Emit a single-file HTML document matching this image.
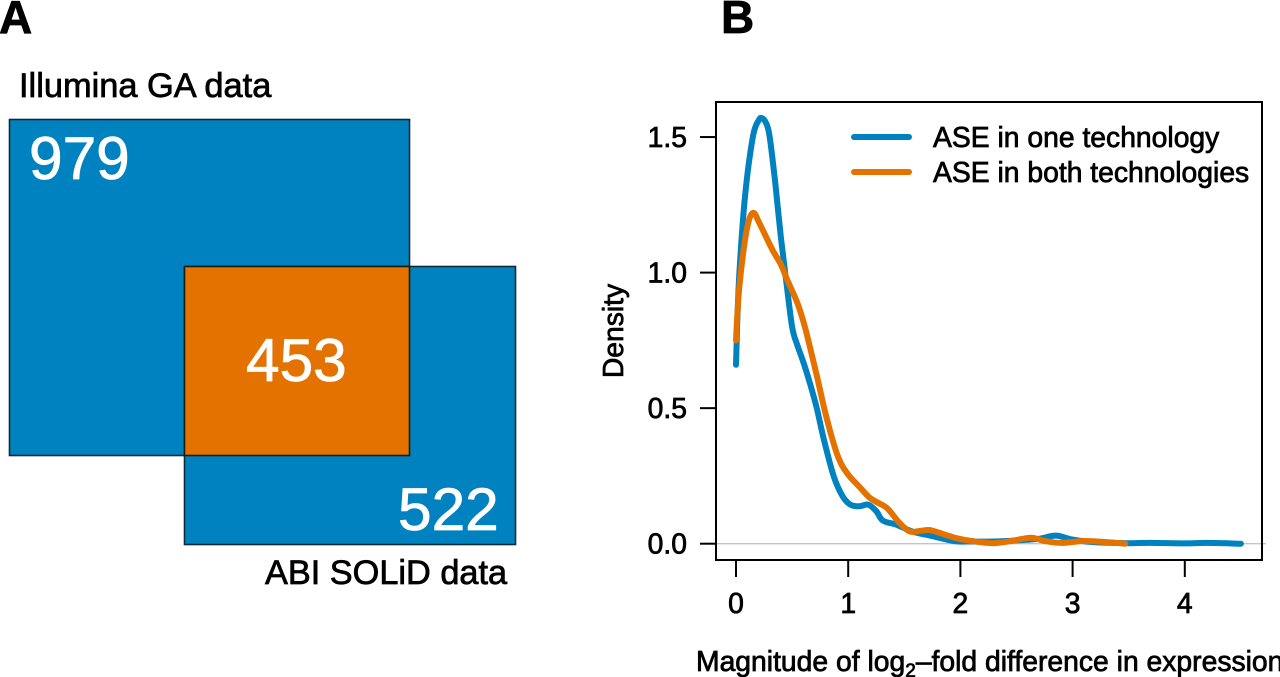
<!DOCTYPE html>
<html lang="en">
<head>
<meta charset="utf-8">
<title>ASE overlap and density</title>
<style>
html,body{margin:0;padding:0;width:1280px;height:677px;overflow:hidden;background:#fff}
svg{display:block;font-family:"Liberation Sans",sans-serif}
text{fill:#000;stroke:#000;stroke-width:.75px}
.w{fill:#fff;stroke:#fff;stroke-width:.8px;font-size:60.4px}
.l{font-size:28.3px}
</style>
</head>
<body>
<svg id="fig" xmlns="http://www.w3.org/2000/svg" width="1280" height="677" viewBox="0 0 1280 677">
  <text x="-1" y="33" font-size="46" font-weight="bold">A</text>
  <text x="721" y="33" font-size="46" font-weight="bold">B</text>

  <g>
    <text x="19" y="97" font-size="34.4">Illumina GA data</text>
    <rect x="9.5" y="119.5" width="400" height="336" fill="#0082c0" stroke="#0c2a3c" stroke-width="1.6"/>
    <rect x="184.5" y="266.5" width="331" height="278" fill="#0082c0" stroke="#0c2a3c" stroke-width="1.6"/>
    <rect x="184.5" y="266.5" width="225" height="189" fill="#e37200" stroke="#1c1c10" stroke-width="1.6"/>
    <text class="w" x="29" y="179">979</text>
    <text class="w" x="246" y="381">453</text>
    <text class="w" x="398" y="530">522</text>
    <text x="265" y="584" font-size="34.3">ABI SOLiD data</text>
  </g>

  <g id="chart"></g>
</svg>
<script>
const xTicks = [0, 1, 2, 3, 4];
const yTicks = [0, 0.5, 1, 1.5];
const yTickLabels = ["0.0", "0.5", "1.0", "1.5"];
const blueX = [0,0.01,0.03,0.08,0.15,0.2,0.23,0.27,0.3,0.35,0.4,0.45,0.5,0.54,0.6,0.66,0.72,0.78,0.87,0.95,1.02,1.1,1.18,1.25,1.31,1.43,1.57,1.73,1.94,2.1,2.3,2.5,2.7,2.85,3,3.2,3.5,3.7,4,4.2,4.5];
const blueY = [0.66,0.8,1.0,1.28,1.5,1.56,1.57,1.55,1.5,1.33,1.13,0.96,0.8,0.74,0.67,0.59,0.5,0.39,0.25,0.175,0.144,0.138,0.144,0.12,0.085,0.07,0.045,0.03,0.01,0.008,0.008,0.012,0.018,0.03,0.015,0.005,0.002,0.003,0.001,0.003,0];
const orangeX = [0,0.01,0.03,0.08,0.12,0.16,0.2,0.27,0.33,0.4,0.46,0.55,0.62,0.72,0.81,0.91,1,1.1,1.19,1.27,1.35,1.45,1.55,1.65,1.73,1.85,1.97,2.1,2.29,2.45,2.63,2.75,2.9,3.1,3.3,3.47];
const orangeY = [0.75,0.83,0.95,1.12,1.2,1.22,1.19,1.13,1.08,1.03,0.97,0.885,0.79,0.62,0.46,0.32,0.255,0.21,0.17,0.15,0.13,0.08,0.045,0.048,0.05,0.035,0.02,0.01,0.002,0.01,0.022,0.01,0.003,0.01,0.006,0];
const legendLabels = ["ASE in one technology", "ASE in both technologies"];

const NS = "http://www.w3.org/2000/svg";
const chart = document.getElementById("chart");
const sx = v => 736 + v * 112.2;
const sy = v => 543.7 - v * 271.1;

function make(tag, attrs, parent) {
  const el = document.createElementNS(NS, tag);
  for (const k in attrs) el.setAttribute(k, attrs[k]);
  (parent || chart).appendChild(el);
  return el;
}

const zero = make("line", {x1: 716, x2: 1266, y1: sy(0), y2: sy(0), stroke: "#c4c4c4", "stroke-width": 1.4});



const box = make("rect", {x: 716, y: 102, width: 546, height: 458, fill: "none", stroke: "#000", "stroke-width": 2});



xTicks.forEach(t => {
  const tick = make("line", {x1: sx(t), x2: sx(t), y1: 560, y2: 577, stroke: "#000", "stroke-width": 2});
  
  
  const lab = make("text", {x: sx(t), y: 613, "text-anchor": "middle", class: "l"});
  lab.textContent = String(t);
  
  
});

yTicks.forEach((t, i) => {
  const tick = make("line", {x1: 700, x2: 716, y1: sy(t), y2: sy(t), stroke: "#000", "stroke-width": 2});
  
  
  const lab = make("text", {x: 687, y: sy(t) + 10, "text-anchor": "end", class: "l"});
  lab.textContent = yTickLabels[i];
  
  
});

// Smooth curve (Catmull-Rom) through the values.
function curve(xs, ys) {
  const p = xs.map((x, i) => [sx(x), sy(ys[i])]);
  let d = "M" + p[0][0].toFixed(1) + " " + p[0][1].toFixed(1);
  for (let i = 0; i < p.length - 1; i++) {
    const a = p[Math.max(i - 1, 0)], b = p[i], c = p[i + 1], e = p[Math.min(i + 2, p.length - 1)];
    const c1x = b[0] + (c[0] - a[0]) / 6, c1y = b[1] + (c[1] - a[1]) / 6;
    const c2x = c[0] - (e[0] - b[0]) / 6, c2y = c[1] - (e[1] - b[1]) / 6;
    d += "C" + c1x.toFixed(1) + " " + c1y.toFixed(1) + " " + c2x.toFixed(1) + " " + c2y.toFixed(1) + " " + c[0].toFixed(1) + " " + c[1].toFixed(1);
  }
  return d;
}

const blueLine = make("path", {d: curve(blueX, blueY), fill: "none", stroke: "#0082c0", "stroke-width": 6, "stroke-linejoin": "round", "stroke-linecap": "round"});



const orangeLine = make("path", {d: curve(orangeX, orangeY), fill: "none", stroke: "#e37200", "stroke-width": 6, "stroke-linejoin": "round", "stroke-linecap": "round"});



const key1 = make("line", {x1: 854, x2: 909, y1: 137, y2: 137, stroke: "#0082c0", "stroke-width": 6, "stroke-linecap": "round"});


const key2 = make("line", {x1: 854, x2: 909, y1: 172, y2: 172, stroke: "#e37200", "stroke-width": 6, "stroke-linecap": "round"});



const leg1 = make("text", {x: 933, y: 147, class: "l"});
leg1.textContent = legendLabels[0];


const leg2 = make("text", {x: 933, y: 182, class: "l"});
leg2.textContent = legendLabels[1];



const yTitle = make("text", {x: 0, y: 0, "text-anchor": "middle", class: "l", transform: "translate(623 331) rotate(-90)"});
yTitle.textContent = "Density";



const xTitle = make("text", {x: 696, y: 671, class: "l"});


xTitle.appendChild(document.createTextNode("Magnitude of log"));
const sub = make("tspan", {"font-size": 19, dy: 6}, xTitle);
sub.textContent = "2";
const rest = make("tspan", {dy: -6}, xTitle);
rest.textContent = "\u2013fold difference in expression";
</script>
</body>
</html>
